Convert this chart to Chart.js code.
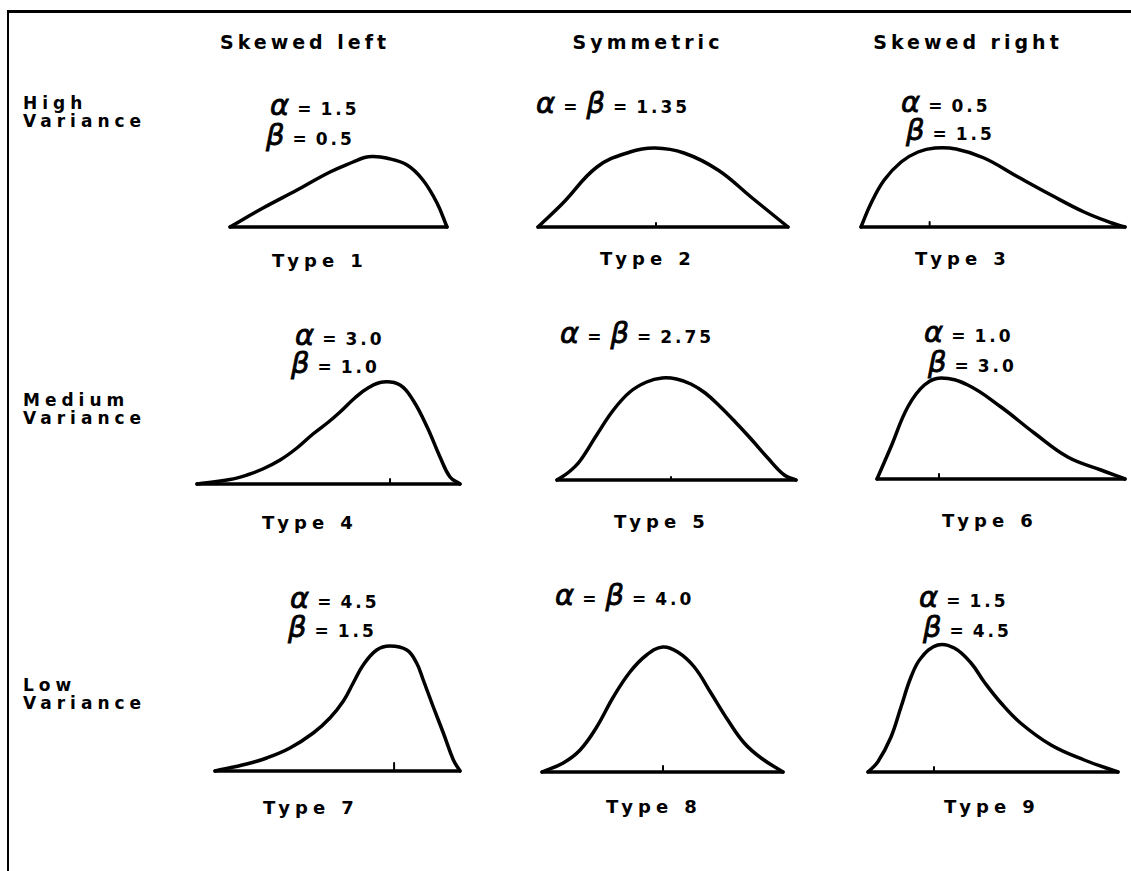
<!DOCTYPE html>
<html>
<head>
<meta charset="utf-8">
<script src="https://cdn.jsdelivr.net/npm/chart.js@4.4.0/dist/chart.umd.min.js"></script>
<style>
  body { margin: 0; background: #fff; }
  #fig { position: relative; width: 1131px; height: 871px; overflow: hidden; background: #fff; }
  #fig canvas { position: absolute; }
  .frameTop { position: absolute; left: 7px; top: 10px; width: 1124px; height: 3px; background: #000; }
  .frameLeft { position: absolute; left: 7px; top: 10px; width: 2px; height: 861px; background: #000; }
  .txt { position: absolute; white-space: nowrap; color: #000; font-family: "DejaVu Sans", sans-serif; font-weight: bold; }
  .head { font-size: 19px; letter-spacing: 4px; }
  .row { font-size: 17px; letter-spacing: 5px; line-height: 18px; }
  .type { font-size: 18px; letter-spacing: 5px; }
  .param { font-size: 17px; letter-spacing: 3px; }
  .param .g { font-size: 29px; font-weight: normal; font-style: italic; letter-spacing: 0; -webkit-text-stroke: 0.8px #000; }
  .param .eq { margin: 0 9px 0 8px; letter-spacing: 0; }
</style>
</head>
<body>
<div id="fig"><div class="frameTop"></div><div class="frameLeft"></div></div>
<script>
// labels
const columnNames = ['Skewed left', 'Symmetric', 'Skewed right'];
const rowNames = ['High', 'Medium', 'Low'];
const typeNames = ['Type 1', 'Type 2', 'Type 3', 'Type 4', 'Type 5', 'Type 6', 'Type 7', 'Type 8', 'Type 9'];
const alphaVals = [1.5, 1.35, 0.5, 3.0, 2.75, 1.0, 4.5, 4.0, 1.5];
const betaVals = [0.5, 1.35, 1.5, 1.0, 2.75, 3.0, 1.5, 4.0, 4.5];

// curve shapes: x = position along the support (0..1), y = height
const type1X = [0, 0.152, 0.309, 0.461, 0.567, 0.62, 0.66, 0.72, 0.816, 0.889, 0.954, 1];
const type1Y = [0, 0.19, 0.37, 0.55, 0.65, 0.695, 0.705, 0.69, 0.62, 0.47, 0.24, 0];
const type2X = [0, 0.10, 0.236, 0.368, 0.468, 0.584, 0.72, 0.852, 1];
const type2Y = [0, 0.24, 0.60, 0.75, 0.79, 0.74, 0.57, 0.30, 0];
const type3X = [0, 0.038, 0.088, 0.152, 0.216, 0.28, 0.36, 0.466, 0.595, 0.72, 0.845, 0.95, 1];
const type3Y = [0, 0.237, 0.47, 0.65, 0.75, 0.79, 0.78, 0.69, 0.50, 0.32, 0.15, 0.04, 0];
const type4X = [0, 0.125, 0.19, 0.25, 0.316, 0.38, 0.441, 0.50, 0.544, 0.60, 0.65, 0.707, 0.772, 0.821, 0.875, 0.924, 0.962, 1];
const type4Y = [0, 0.045, 0.09, 0.15, 0.24, 0.36, 0.50, 0.62, 0.72, 0.86, 0.96, 1.02, 0.99, 0.84, 0.57, 0.27, 0.07, 0];
const type5X = [0, 0.05, 0.096, 0.166, 0.236, 0.305, 0.375, 0.44, 0.50, 0.56, 0.62, 0.68, 0.742, 0.812, 0.882, 0.951, 1];
const type5Y = [0, 0.08, 0.19, 0.45, 0.70, 0.88, 0.98, 1.02, 1.01, 0.96, 0.87, 0.74, 0.59, 0.41, 0.22, 0.05, 0];
const type6X = [0, 0.056, 0.124, 0.191, 0.258, 0.366, 0.50, 0.634, 0.769, 0.903, 1];
const type6Y = [0, 0.32, 0.72, 0.94, 1.01, 0.94, 0.72, 0.46, 0.22, 0.09, 0];
const type7X = [0, 0.129, 0.211, 0.306, 0.401, 0.469, 0.524, 0.564, 0.605, 0.66, 0.714, 0.783, 0.823, 0.85, 0.891, 0.932, 0.973, 1];
const type7Y = [0, 0.07, 0.13, 0.23, 0.38, 0.53, 0.70, 0.88, 1.06, 1.21, 1.25, 1.21, 1.08, 0.91, 0.64, 0.38, 0.11, 0];
const type8X = [0, 0.088, 0.158, 0.227, 0.296, 0.365, 0.434, 0.501, 0.563, 0.632, 0.701, 0.771, 0.839, 0.909, 1];
const type8Y = [0, 0.09, 0.22, 0.45, 0.75, 1.00, 1.17, 1.25, 1.20, 1.05, 0.79, 0.52, 0.29, 0.14, 0];
const type9X = [0, 0.039, 0.092, 0.132, 0.172, 0.212, 0.279, 0.345, 0.412, 0.465, 0.532, 0.61, 0.732, 0.865, 1];
const type9Y = [0, 0.10, 0.35, 0.65, 0.95, 1.14, 1.27, 1.24, 1.09, 0.90, 0.69, 0.49, 0.27, 0.12, 0];

// little tick mark on each baseline
const tickX = [null, 0.472, 0.26, 0.734, 0.477, 0.25, 0.731, 0.502, 0.264];
const tickY = [0, 0.04, 0.05, 0.05, 0.03, 0.05, 0.08, 0.06, 0.05];

const curveX = [type1X, type2X, type3X, type4X, type5X, type6X, type7X, type8X, type9X];
const curveY = [type1Y, type2Y, type3Y, type4Y, type5Y, type6Y, type7Y, type8Y, type9Y];

// page layout (pixels)
const headPos = [[305, 42], [648, 42], [968, 42]];
const rowPos = [[23, 103], [23, 400], [23, 685]];
const panels = [
  { left: 230, width: 217, base: 227, alpha: [270, 105], beta: [266, 135], label: [320, 260] },
  { left: 538, width: 250, base: 227, alpha: [536, 103], label: [648, 258] },
  { left: 861, width: 264, base: 227, alpha: [901, 102], beta: [906, 130], label: [963, 258] },
  { left: 197, width: 263, base: 484, alpha: [295, 335], beta: [291, 363], label: [310, 522] },
  { left: 557, width: 239, base: 480, alpha: [560, 333], label: [662, 521] },
  { left: 877, width: 248, base: 479, alpha: [924, 332], beta: [928, 362], label: [990, 520] },
  { left: 215, width: 245, base: 771, alpha: [290, 598], beta: [288, 627], label: [311, 807] },
  { left: 542, width: 241, base: 772, alpha: [555, 595], label: [654, 806] },
  { left: 868, width: 250, base: 772, alpha: [919, 597], beta: [923, 627], label: [992, 806] }
];

const fig = document.getElementById('fig');

function addText(html, pos, cls, centered) {
  const d = document.createElement('div');
  d.className = 'txt ' + cls;
  d.innerHTML = html;
  d.style.left = pos[0] + 'px';
  d.style.top = pos[1] + 'px';
  d.style.transform = centered ? 'translate(-50%, -50%)' : 'translateY(-50%)';
  fig.appendChild(d);
}

function fmt(v) {
  return Number.isInteger(Math.round(v * 100) / 10) ? v.toFixed(1) : v.toFixed(2);
}

const eq = '<span class="eq">=</span>';

columnNames.forEach((n, i) => addText(n, headPos[i], 'head', true));
rowNames.forEach((n, i) => addText(n + '<br>Variance', [rowPos[i][0], rowPos[i][1] + 9], 'row', false));

panels.forEach((p, i) => {
  const a = alphaVals[i], b = betaVals[i];
  if (a === b) {
    addText('<span class="g">α</span>' + eq + '<span class="g">β</span>' + eq + fmt(a), p.alpha, 'param', false);
  } else {
    addText('<span class="g">α</span>' + eq + fmt(a), p.alpha, 'param', false);
    addText('<span class="g">β</span>' + eq + fmt(b), p.beta, 'param', false);
  }
  addText(typeNames[i], p.label, 'type', true);

  // canvas sized so that chart area maps x 0..1 onto the curve span, y 0..1.3 onto 130px
  const pad = 5;
  const c = document.createElement('canvas');
  c.width = p.width + 2 * pad;
  c.height = 140;
  c.style.left = (p.left - pad) + 'px';
  c.style.top = (p.base - 135) + 'px';
  fig.appendChild(c);

  const sets = [
    { data: curveX[i].map((x, k) => ({ x: x, y: curveY[i][k] })), borderWidth: 3.5, tension: 0.4 },
    { data: [{ x: 0, y: 0 }, { x: 1, y: 0 }], borderWidth: 3.5 }
  ];
  if (tickX[i] !== null) {
    sets.push({ data: [{ x: tickX[i], y: 0 }, { x: tickX[i], y: tickY[i] }], borderWidth: 2 });
  }

  new Chart(c, {
    type: 'line',
    data: {
      datasets: sets.map(s => Object.assign({
        borderColor: '#000',
        pointRadius: 0,
        fill: false,
        clip: false,
        borderCapStyle: 'round',
        borderJoinStyle: 'round'
      }, s))
    },
    options: {
      responsive: false,
      animation: false,
      devicePixelRatio: 1,
      layout: { padding: pad },
      plugins: { legend: { display: false }, tooltip: { enabled: false } },
      scales: {
        x: { type: 'linear', min: 0, max: 1, display: false },
        y: { min: 0, max: 1.3, display: false }
      }
    }
  });
});
</script>
</body>
</html>
